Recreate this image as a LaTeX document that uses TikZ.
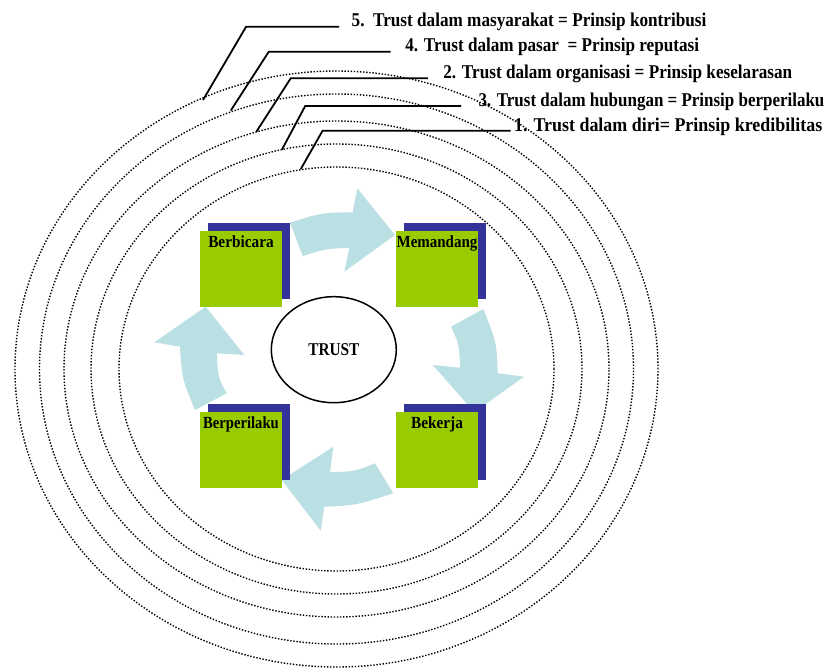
\documentclass[tikz,border=0pt]{standalone}
\usepackage{fontspec}
\setmainfont{Liberation Serif}
\usetikzlibrary{shapes.geometric}
\definecolor{arrowblue}{RGB}{187,224,228}
\definecolor{boxgreen}{RGB}{153,204,0}
\definecolor{boxblue}{RGB}{51,51,153}
\newcommand{\narrowtext}[2]{\scalebox{#1}[1]{#2}}
\begin{document}
\begin{tikzpicture}[x=1pt,y=-1pt,
  ring/.style={draw=black, line width=1.4pt, dash pattern=on 1.4pt off 1.7pt},
  leader/.style={draw=black, line width=1.8pt},
  lead/.style={font=\bfseries\fontsize{19.5}{22}\selectfont, anchor=base west, inner sep=0pt},
  cyc/.style={fill=arrowblue, draw=none},
  shadowbox/.style={fill=boxblue, draw=none, minimum width=82pt, minimum height=76pt, inner sep=0pt},
  greenbox/.style={fill=boxgreen, draw=none, minimum width=82pt, minimum height=76pt, inner sep=0pt},
  lbl/.style={font=\bfseries\fontsize{17}{20}\selectfont, anchor=base, inner sep=0pt},
  core/.style={ellipse, draw=black, line width=1.5pt, fill=white, minimum width=125pt, minimum height=106pt, inner sep=0pt, font=\bfseries\fontsize{18}{20}\selectfont}
]
\useasboundingbox (0,0) rectangle (832,669);
\fill[white] (0,0) rectangle (832,669);

% concentric dotted rings
\coordinate (O) at (336.5,369);
\draw[ring] (O) ellipse [x radius=217.5pt, y radius=202pt];
\draw[ring] (O) ellipse [x radius=245.5pt, y radius=225pt];
\draw[ring] (O) ellipse [x radius=272.5pt, y radius=248pt];
\draw[ring] (O) ellipse [x radius=297pt, y radius=275pt];
\draw[ring] (O) ellipse [x radius=321.5pt, y radius=298pt];

% leader lines and texts
\coordinate (p5) at (203,100);   \coordinate (k5) at (246.1,26.7);  \coordinate (e5) at (339.1,26.7);
\coordinate (p4) at (230.8,110.5); \coordinate (k4) at (268.8,51.7); \coordinate (e4) at (390.7,51.7);
\coordinate (p2) at (256.5,131.5); \coordinate (k2) at (290.7,78.3); \coordinate (e2) at (427.9,78.3);
\coordinate (p3) at (282,149.5); \coordinate (k3) at (305.2,106);  \coordinate (e3) at (461,106);
\coordinate (p1) at (300.8,169); \coordinate (k1) at (322.6,130.7); \coordinate (e1) at (510.6,130.7);
\draw[leader] (p5) -- (k5) -- (e5);
\draw[leader] (p4) -- (k4) -- (e4);
\draw[leader] (p2) -- (k2) -- (e2);
\draw[leader] (p3) -- (k3) -- (e3);
\draw[leader] (p1) -- (k1) -- (e1);
\node[lead] (t5) at (351.5,27) {\narrowtext{0.88}{5.\ \ Trust dalam masyarakat = Prinsip kontribusi}};
\node[lead] (t4) at (405.2,52) {\narrowtext{0.88}{4. Trust dalam pasar\ \ = Prinsip reputasi}};
\node[lead] (t2) at (443.2,78.8) {\narrowtext{0.88}{2. Trust dalam organisasi = Prinsip keselarasan}};
\node[lead] (t3) at (478.3,106.5) {\narrowtext{0.87}{3. Trust dalam hubungan = Prinsip berperilaku}};
\node[lead] (t1) at (513.9,131) {\narrowtext{0.92}{1. Trust dalam diri= Prinsip kredibilitas}};

% circular arrows
\fill[cyc] (290,222.7) .. controls (321.3,212.8) .. (352.7,212.3) -- (357.3,188.3) -- (395,235) -- (344.3,271.7) -- (349.3,247.7) .. controls (326,248.9) .. (302.7,256) -- cycle;
\fill[cyc] (483.3,309) .. controls (496.5,341.9) .. (497.7,373.3) -- (524,376.7) -- (474.4,412.1) -- (432.7,365) -- (460,367.7) .. controls (459.2,344.3) .. (451,326.7) -- cycle;
\fill[cyc] (393.3,493.3) .. controls (356,505.3) .. (324.3,506.7) -- (320.7,530.7) -- (281.7,480) -- (333.3,446.7) -- (330,472) .. controls (353.6,471.7) .. (375,463.3) -- cycle;
\fill[cyc] (195,410) .. controls (181.9,378.3) .. (180,346.7) -- (154.3,342.3) -- (205.7,306.7) -- (244.3,355) -- (216.7,353.3) .. controls (218.1,377.8) .. (226.7,393.3) -- cycle;

% boxes
\node[shadowbox] (s1) at (249,260.85) {};
\node[greenbox] (g1) at (241,268.85) {};
\node[shadowbox] (s2) at (445,260.85) {};
\node[greenbox] (g2) at (437,268.85) {};
\node[shadowbox] (s3) at (249,441.65) {};
\node[greenbox] (g3) at (241,449.65) {};
\node[shadowbox] (s4) at (445,441.65) {};
\node[greenbox] (g4) at (437,449.65) {};
\node[lbl] (l1) at (241,247.5) {\narrowtext{0.9}{Berbicara}};
\node[lbl] (l2) at (437,247.5) {\narrowtext{0.88}{Memandang}};
\node[lbl] (l3) at (241,428.5) {\narrowtext{0.86}{Berperilaku}};
\node[lbl] (l4) at (437,428) {\narrowtext{0.9}{Bekerja}};

% centre
\node[core] (trust) at (333.8,349.7) {\narrowtext{0.85}{TRUST}};
\end{tikzpicture}
\end{document}
